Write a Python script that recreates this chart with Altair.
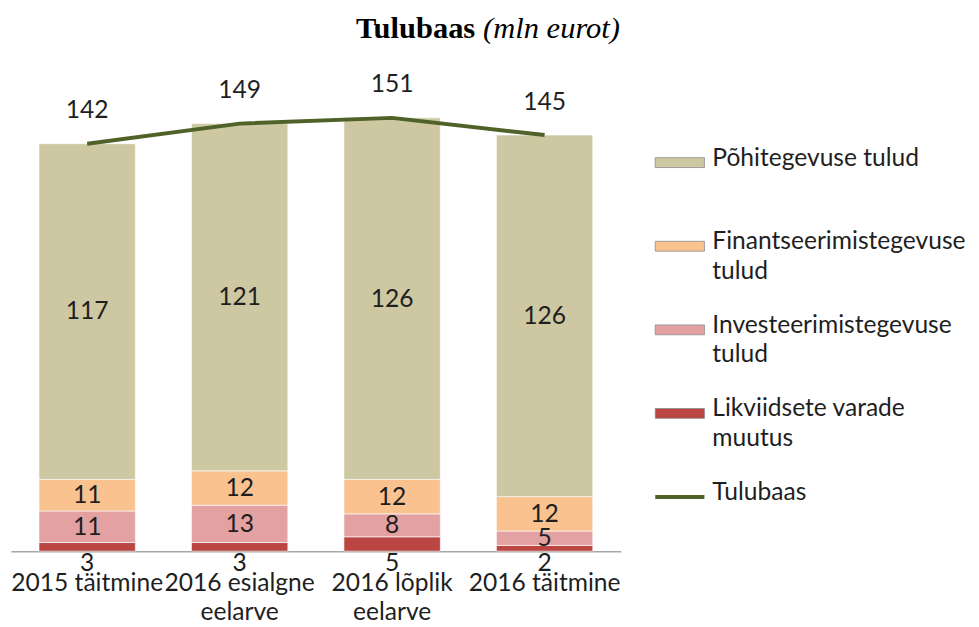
import altair as alt
import pandas as pd

# ---- data ----
categories = ["2015 täitmine", "2016 esialgne\neelarve", "2016 lõplik\neelarve", "2016 täitmine"]
series_names = [
    "Likviidsete varade muutus",
    "Investeerimistegevuse tulud",
    "Finantseerimistegevuse tulud",
    "Põhitegevuse tulud",
]
likviidsete = [3, 3, 5, 2]
investeerimis = [11, 13, 8, 5]
finantseerimis = [11, 12, 12, 12]
pohitegevus = [117, 121, 126, 126]
tulubaas = [142, 149, 151, 145]

legend_names = [
    "Põhitegevuse tulud",
    "Finantseerimistegevuse tulud",
    "Investeerimistegevuse tulud",
    "Likviidsete varade muutus",
    "Tulubaas",
]
legend_labels = [
    "Põhitegevuse tulud",
    "Finantseerimistegevuse\ntulud",
    "Investeerimistegevuse\ntulud",
    "Likviidsete varade\nmuutus",
    "Tulubaas",
]

# ---- styles ----
colors = ["#bb4542", "#e3a1a2", "#f9c28f", "#cdc8a2"]
line_color = "#4f6228"
FONT = "Lato"
TXT = "#1f1f1f"
FS = 25

# ---- tables ----
series_values = [likviidsete, investeerimis, finantseerimis, pohitegevus]
rows = []
for s_i, (name, vals) in enumerate(zip(series_names, series_values)):
    for c, v in zip(categories, vals):
        rows.append({"cat": c, "series": name, "value": v, "ord": s_i})
df = pd.DataFrame(rows)
df_tot = pd.DataFrame({"cat": categories, "total": tulubaas})
df_leg = pd.DataFrame({"series": legend_names, "label": legend_labels})

x_enc = alt.X(
    "cat:N",
    sort=categories,
    scale=alt.Scale(paddingInner=0.368, paddingOuter=0.184),
    axis=alt.Axis(
        title=None,
        labelExpr="split(datum.label, '\\n')",
        labelAngle=0,
        labelFont=FONT,
        labelFontSize=FS,
        labelColor=TXT,
        labelPadding=20,
        labelLineHeight=30,
        ticks=False,
        tickSize=0,
        domainColor="#a6a6a6",
        domainWidth=1.5,
        labelLimit=400,
        labelOverlap=False,
    ),
)
y_scale = alt.Scale(domain=[0, 157], nice=False)
color_scale = alt.Scale(domain=series_names, range=colors)

base = alt.Chart(df)

bars = base.mark_bar(stroke="#ffffff", strokeOpacity=0.6, strokeWidth=1).encode(
    x=x_enc,
    y=alt.Y("value:Q", stack="zero", scale=y_scale, axis=None),
    color=alt.Color("series:N", scale=color_scale, legend=None),
    order=alt.Order("ord:Q"),
)

seg_text = (
    base.transform_stack(
        stack="value", groupby=["cat"], sort=[alt.SortField("ord")], as_=["v0", "v1"]
    )
    .transform_calculate(mid="(datum.v0 + datum.v1) / 2")
    .transform_filter("datum.ord > 0")
    .mark_text(font=FONT, fontSize=FS, color=TXT, baseline="middle")
    .encode(
        x=x_enc,
        y=alt.Y("mid:Q", scale=y_scale, axis=None),
        text="value:Q",
    )
)

likv_text = (
    base.transform_filter("datum.ord == 0")
    .transform_calculate(base0="0")
    .mark_text(font=FONT, fontSize=FS, color=TXT, baseline="middle", dy=12)
    .encode(
        x=x_enc,
        y=alt.Y("base0:Q", scale=y_scale, axis=None),
        text="value:Q",
    )
)

tot = alt.Chart(df_tot)
line = tot.mark_line(color=line_color, strokeWidth=4).encode(
    x=x_enc,
    y=alt.Y("total:Q", scale=y_scale, axis=None),
)
tot_text = tot.mark_text(
    font=FONT, fontSize=FS, color=TXT, baseline="middle", dy=-34
).encode(
    x=x_enc,
    y=alt.Y("total:Q", scale=y_scale, axis=None),
    text="total:Q",
)

title1 = alt.Chart(pd.DataFrame({"t": ["Tulubaas"]})).mark_text(
    font="Liberation Serif", fontSize=31, fontWeight="bold", color="#000000",
    align="right", baseline="alphabetic",
).encode(x=alt.value(472), y=alt.value(-64), text="t:N")
title2 = alt.Chart(pd.DataFrame({"t": ["(mln eurot)"]})).mark_text(
    font="Liberation Serif", fontSize=31, fontStyle="italic", color="#000000",
    align="left", baseline="alphabetic",
).encode(x=alt.value(480), y=alt.value(-64), text="t:N")

main = alt.layer(bars, seg_text, likv_text, line, tot_text, title1, title2).properties(
    width=620, height=458
)

# ---- legend panel (built from the series names) ----
leg = alt.Chart(df_leg)
leg_y = alt.Y(
    "series:N", sort=legend_names, scale=alt.Scale(range=[63, 403], padding=0), axis=None
)
leg_rect = leg.transform_filter("datum.series != 'Tulubaas'").mark_point(
    shape="M-1,-0.2L1,-0.2L1,0.2L-1,0.2Z", size=2500, filled=True, opacity=1,
    stroke="#8a8a8a", strokeWidth=0.8,
).encode(
    x=alt.value(24), y=leg_y,
    color=alt.Color("series:N", scale=color_scale, legend=None),
)
leg_line = leg.transform_filter("datum.series == 'Tulubaas'").mark_point(
    shape="M-1,-0.08L1,-0.08L1,0.08L-1,0.08Z", size=2500, filled=True, opacity=1,
    color=line_color,
).encode(x=alt.value(24), y=leg_y)
leg_text = leg.mark_text(
    font=FONT, fontSize=FS, color=TXT, align="left", baseline="alphabetic",
    dy=3, lineBreak="\n", lineHeight=30,
).encode(x=alt.value(57), y=leg_y, text="label:N")

legend = alt.layer(leg_rect, leg_line, leg_text).properties(width=290, height=458)

chart = (
    alt.hconcat(main, legend, spacing=36, bounds="flush")
    .properties(
        padding={"left": 2, "top": 0, "right": 5, "bottom": 2},
        background="#ffffff",
    )
    .configure_view(strokeWidth=0)
)

chart.save("out.html", embed_options={"renderer": "svg", "actions": False})
